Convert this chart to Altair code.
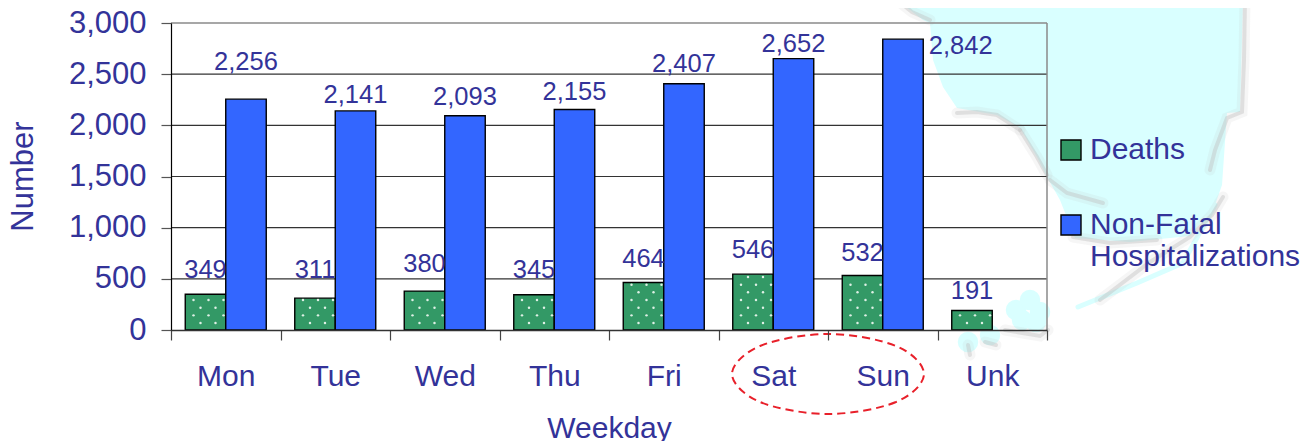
import altair as alt
import pandas as pd

DAYS = ["Mon", "Tue", "Wed", "Thu", "Fri", "Sat", "Sun", "Unk"]
DEATHS = [349, 311, 380, 345, 464, 546, 532, 191]
NONFATAL = [2256, 2141, 2093, 2155, 2407, 2652, 2842]
SERIES = ["Deaths", "Non-Fatal Hospitalizations"]
GRID_VALUES = [500, 1000, 1500, 2000, 2500]
Y_TICKS = [0, 500, 1000, 1500, 2000, 2500, 3000]
# hand placement of the value labels (px above/below each bar top)
DEATH_NUDGE = [-24, -28, -27, -25, -23.5, -24, -23, -19.5]
NONFATAL_NUDGE = [-37, -16, -19, -17.5, -20, -15, 7]

# decorative backdrop, page pixels
COAST_X = [897, 923, 930, 933, 943, 957, 997, 1020, 1037, 1047, 1060, 1075, 1130, 1190, 1215, 1222, 1227, 1240, 1243]
COAST_Y = [0, 20, 23, 60, 87, 108, 115, 128, 157, 177, 200, 238, 242, 236, 205, 185, 113, 112, 0]
SHADOWS = [
    [(897, 0), (912, 12), (930, 20)],
    [(957, 113), (977, 112), (997, 115), (1020, 130)],
    [(1020, 130), (1037, 157), (1047, 175)],
    [(1050, 180), (1067, 193), (1103, 203)],
    [(1245, 0), (1244, 60), (1242, 112), (1227, 118), (1215, 150), (1210, 170)],
    [(1073, 237), (1110, 243), (1157, 240)],
    [(1223, 197), (1212, 215), (1190, 237), (1150, 262), (1100, 300)],
    [(1005, 330), (1040, 336), (1048, 330)],
    [(968, 345), (970, 355)],
    [(985, 342), (996, 345)],
]
KEYS = [(1078, 307), (1137, 283), (1183, 263), (1215, 205)]
ISLANDS_X = [1016, 1030, 1040, 1022, 1036, 968, 990]
ISLANDS_Y = [310, 300, 312, 320, 322, 342, 335]
ELLIPSE_X = [924, 896, 828, 760, 732, 760, 828, 896]
ELLIPSE_Y = [374, 402, 414, 402, 374, 346, 334, 346]

TEXT = "#333399"
FONT = "Liberation Sans"
W, H = 876, 307
X0, Y0 = 171, 23

bars = pd.DataFrame(
    [dict(day=d, series=SERIES[0], value=v, nudge=n) for d, v, n in zip(DAYS, DEATHS, DEATH_NUDGE)]
    + [dict(day=d, series=SERIES[1], value=v, nudge=n) for d, v, n in zip(DAYS, NONFATAL, NONFATAL_NUDGE)]
)
bars["label"] = bars["value"].map(lambda v: f"{v:,}")

band = alt.Scale(domain=DAYS, paddingInner=0, paddingOuter=0)
sub = alt.Scale(domain=SERIES, paddingInner=0, paddingOuter=0.352)
val = alt.Scale(domain=[0, 3000], nice=False, zero=False)
px_x = alt.Scale(domain=[X0, X0 + W], nice=False, zero=False)
px_y = alt.Scale(domain=[Y0, Y0 + H], nice=False, zero=False, reverse=True)
PX = alt.X("x:Q", scale=px_x, axis=None)
PY = alt.Y("y:Q", scale=px_y, axis=None)
PY2 = alt.Y2("y2:Q")

land = alt.Chart(pd.DataFrame({"x": COAST_X, "y": COAST_Y, "y2": [-20] * len(COAST_X)})).mark_area(
    color="#d9ffff", interpolate="linear"
).encode(x=PX, y=PY, y2=PY2)

shadow_df = pd.DataFrame(
    [dict(seg=i, ord=j, x=p[0], y=p[1]) for i, s in enumerate(SHADOWS) for j, p in enumerate(s)]
)
shadow_wide = alt.Chart(shadow_df).mark_line(color="#bdbdbd", strokeWidth=11, opacity=0.14, strokeCap="round").encode(
    x=PX, y=PY, detail="seg:N", order="ord:Q")
shadow_thin = alt.Chart(shadow_df).mark_line(color="#bdbdbd", strokeWidth=4, opacity=0.4, strokeCap="round").encode(
    x=PX, y=PY, detail="seg:N", order="ord:Q")

keys = alt.Chart(pd.DataFrame({"x": [p[0] for p in KEYS], "y": [p[1] for p in KEYS], "ord": range(len(KEYS))})).mark_line(
    color="#d9ffff", strokeWidth=5, strokeCap="round").encode(x=PX, y=PY, order="ord:Q")
islands = alt.Chart(pd.DataFrame({"x": ISLANDS_X, "y": ISLANDS_Y})).mark_circle(
    color="#d9ffff", size=420, opacity=1).encode(x=PX, y=PY)

grid = alt.Chart(pd.DataFrame({"v": GRID_VALUES})).mark_rule(color="#333333", strokeWidth=1.2).encode(
    y=alt.Y("v:Q", scale=val, axis=alt.Axis(
        values=Y_TICKS, labelExpr="format(datum.value, ',')", title="Number", grid=False, zindex=1,
        domainColor="#000000", domainWidth=1.2, tickColor="#555555", tickSize=10, tickWidth=1.2,
        labelColor=TEXT, labelFont=FONT, labelFontSize=31, labelPadding=15,
        titleColor=TEXT, titleFont=FONT, titleFontSize=31, titleFontWeight="normal",
        titleX=-132, titleY=153,
    )))
top_rule = alt.Chart(pd.DataFrame({"v": [3000]})).mark_rule(color="#8a8a8a", strokeWidth=1.5).encode(
    y=alt.Y("v:Q", scale=val, axis=None))
right_rule = alt.Chart(pd.DataFrame({"x": [X0 + W]})).mark_rule(color="#8a8a8a", strokeWidth=1.5).encode(x=PX)

bar_layer = alt.Chart(bars).mark_bar(stroke="#000000", strokeWidth=1.4, size=40.5).encode(
    x=alt.X("day:N", scale=band, sort=DAYS, axis=alt.Axis(
        title="Weekday", labelAngle=0, tickBand="extent", zindex=1,
        domainColor="#333333", domainWidth=1.5, tickColor="#444444", tickSize=10, tickWidth=1.2,
        labelColor=TEXT, labelFont=FONT, labelFontSize=30, labelPadding=21,
        titleColor=TEXT, titleFont=FONT, titleFontSize=30, titleFontWeight="normal",
        titleBaseline="alphabetic", titleY=107,
    )),
    xOffset=alt.XOffset("series:N", scale=sub, sort=SERIES),
    y=alt.Y("value:Q", scale=val, axis=None),
    color=alt.Color("series:N", scale=alt.Scale(domain=SERIES, range=["#339966", "#3366ff"]), legend=alt.Legend(
        title=None, orient="none", legendX=885, legendY=112, zindex=1,
        symbolType="square", symbolSize=400, symbolStrokeColor="#000000", symbolStrokeWidth=1.4, symbolOpacity=1,
        labelColor=TEXT, labelFont=FONT, labelFontSize=30, labelLimit=400, rowPadding=45,
        labelExpr="datum.label == 'Deaths' ? datum.label : ['Non-Fatal', 'Hospitalizations']",
    )),
)

# texture of the green bars
dots = []
for i, v in enumerate(DEATHS):
    left = 185 + 109.5 * i
    row, level = 0, 68
    while level < v - 15:
        offsets = (15.5, 30.5) if row % 2 == 0 else (8.5, 23.5, 38.5)
        for o in offsets:
            dots.append(dict(x=left + o, v=level))
        row += 1
        level += 75
dot_layer = alt.Chart(pd.DataFrame(dots)).mark_circle(color="#dff0e6", size=6, opacity=1).encode(
    x=PX, y=alt.Y("v:Q", scale=val, axis=None))


def label_layer(test, dx):
    return alt.Chart(bars).transform_filter(test).transform_calculate(
        at=f"datum.value - datum.nudge * 3000 / {H}"
    ).mark_text(
        color=TEXT, font=FONT, fontSize=25.5, baseline="middle", align="center", dx=dx
    ).encode(
        x=alt.X("day:N", scale=band, sort=DAYS, axis=None),
        y=alt.Y("at:Q", scale=val, axis=None),
        text="label:N",
    )


labels_deaths = label_layer(f"datum.series == '{SERIES[0]}'", -20.25)
labels_main = label_layer(f"datum.series == '{SERIES[1]}' && datum.label != '2,842'", 20.25)
labels_side = label_layer("datum.label == '2,842'", 78)

ellipse = alt.Chart(pd.DataFrame({"x": ELLIPSE_X, "y": ELLIPSE_Y, "ord": range(len(ELLIPSE_X))})).mark_line(
    color="#e8202a", strokeWidth=2, strokeDash=[8, 5], interpolate="cardinal-closed"
).encode(x=PX, y=PY, order="ord:Q")

chart = (
    alt.layer(land, keys, islands, shadow_wide, shadow_thin, grid, top_rule, right_rule,
              bar_layer, dot_layer, labels_deaths, labels_main, labels_side, ellipse)
    .resolve_scale(x="independent", y="independent", xOffset="independent")
    .properties(
        width=W, height=H,
        autosize=alt.AutoSizeParams(type="none"),
        padding={"left": X0 - 8, "top": Y0 - 8, "right": 1300 - W - (X0 - 8), "bottom": 111},
        background="#ffffff",
    )
    .configure_view(stroke=None)
)

chart.save("out.html", embed_options={"renderer": "svg", "actions": False})
